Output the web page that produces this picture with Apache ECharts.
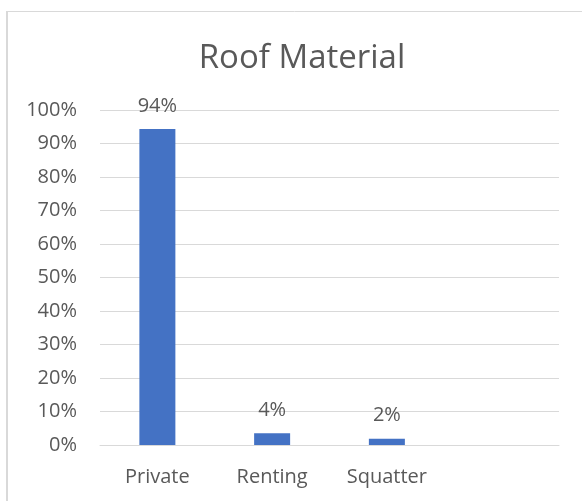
<!DOCTYPE html>
<html>
<head>
<meta charset="utf-8">
<script src="https://cdn.jsdelivr.net/npm/echarts@6/dist/echarts.min.js"></script>
<style>
  html, body { margin: 0; padding: 0; background: #fff; }
  #chart { width: 582px; height: 501px; }
</style>
</head>
<body>
<div id="chart"></div>
<script>
// data (percent)
const categories = ["Private", "Renting", "Squatter", ""];
const shares = [94.3, 3.5, 1.9, null];
const yTicks = [0, 10, 20, 30, 40, 50, 60, 70, 80, 90, 100];

const chart = echarts.init(document.getElementById("chart"));
const font = "'Open Sans', 'Noto Sans', sans-serif";
const grey = "#595959";

chart.setOption({
    backgroundColor: "#fff",
    animation: false,
    title: {
        text: "Roof Material",
        left: 297,
        top: 37,
        textAlign: "center",
        textStyle: { fontFamily: font, fontSize: 33, fontWeight: "normal", color: grey }
    },
    graphic: [
        { type: "line", shape: { x1: 7, y1: 11.5, x2: 582, y2: 11.5 }, style: { stroke: "#d9d9d9", lineWidth: 1 } },
        { type: "line", shape: { x1: 7, y1: 11, x2: 7, y2: 501 }, style: { stroke: "#d9d9d9", lineWidth: 2 } }
    ],
    grid: { left: 100, right: 23, top: 110, bottom: 56 },
    xAxis: {
        type: "category",
        data: categories,
        axisLine: { show: true, lineStyle: { color: "#d9d9d9" } },
        axisTick: { show: false },
        axisLabel: { margin: 22, fontFamily: font, fontSize: 20, color: grey }
    },
    yAxis: {
        type: "value",
        min: yTicks[0],
        max: yTicks[yTicks.length - 1],
        interval: 10,
        axisLine: { show: false },
        axisTick: { show: false },
        splitLine: { lineStyle: { color: "#d9d9d9" } },
        axisLabel: { margin: 23, fontFamily: font, fontSize: 20, color: grey, formatter: "{value}%" }
    },
    series: [{
        type: "bar",
        data: shares,
        barWidth: 36,
        itemStyle: { color: "#4472c4" },
        label: {
            show: true,
            position: "top",
            distance: 13,
            fontFamily: font,
            fontSize: 20,
            color: grey,
            formatter: p => Math.round(p.value) + "%"
        }
    }]
});
</script>
</body>
</html>
